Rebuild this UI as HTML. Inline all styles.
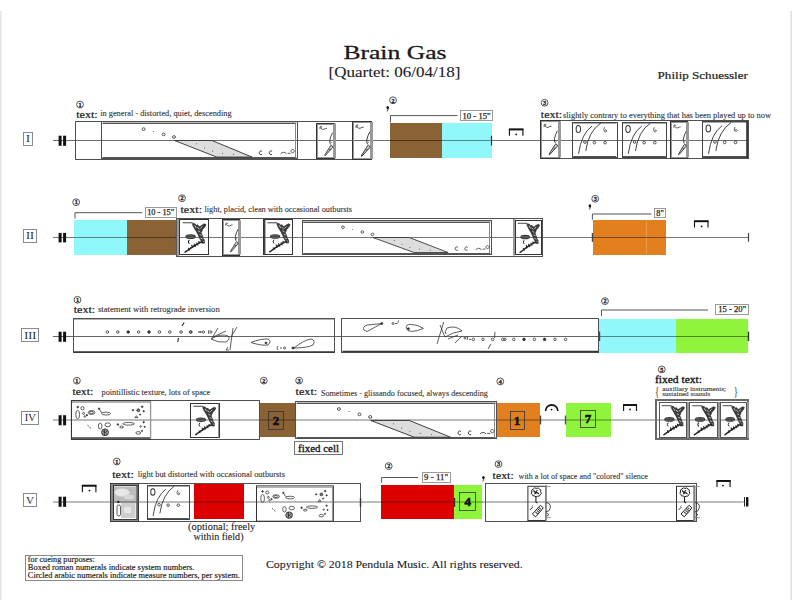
<!DOCTYPE html><html><head><meta charset="utf-8"><style>html,body{margin:0;padding:0;background:#fff;width:792px;height:612px;overflow:hidden}svg{display:block}text{font-family:'Liberation Serif', serif}</style></head><body>
<svg width="792" height="612" viewBox="0 0 792 612">
<rect x="0" y="0" width="792" height="612" fill="#fff"/>
<rect x="0" y="11" width="1.6" height="589" fill="#e4e4e6"/>
<rect x="790.2" y="11" width="1.8" height="589" fill="#e4e4e6"/>
<text x="343.4" y="59" font-size="19.5" font-weight="normal" fill="#1a1a1a" text-anchor="start" textLength="103.1" lengthAdjust="spacingAndGlyphs" stroke="#1a1a1a" stroke-width="0.3">Brain Gas</text>
<text x="328.5" y="77.2" font-size="14" font-weight="normal" fill="#222" text-anchor="start" textLength="131.9" lengthAdjust="spacingAndGlyphs" stroke="#222" stroke-width="0.1">[Quartet: 06/04/18]</text>
<text x="657.6" y="78.75" font-size="10.2" font-weight="normal" fill="#222" text-anchor="start" textLength="90.3" lengthAdjust="spacingAndGlyphs" stroke="#222" stroke-width="0.2">Philip Schuessler</text>
<rect x="23.5" y="132.5" width="9" height="13" fill="none" stroke="#8a8a8a" stroke-width="1"/>
<text x="26" y="142" font-size="10" font-weight="normal" fill="#2a2a2a" text-anchor="start" textLength="4" lengthAdjust="spacingAndGlyphs">I</text>
<line x1="52.9" y1="140.5" x2="748" y2="140.5" stroke="#6e6e6e" stroke-width="1"/>
<rect x="58.6" y="135.7" width="3" height="10.1" fill="#111"/>
<rect x="63.1" y="135.7" width="3" height="10.1" fill="#111"/>
<circle cx="80" cy="104.5" r="3.4" fill="none" stroke="#555" stroke-width="1"/>
<text x="80" y="106.7" font-size="6.2" font-weight="bold" fill="#222" text-anchor="middle" stroke="#222" stroke-width="0.3">1</text>
<text x="76.2" y="117.7" font-size="10.8" font-weight="normal" fill="#1a1a1a" text-anchor="start" textLength="21.5" lengthAdjust="spacingAndGlyphs" stroke="#1a1a1a" stroke-width="0.2">text:</text>
<text x="100.2" y="116.4" font-size="7.9" font-weight="normal" fill="#333" text-anchor="start" textLength="131.4" lengthAdjust="spacingAndGlyphs" stroke="#333" stroke-width="0.1">in general - distorted, quiet, descending</text>
<rect x="75.5" y="121.5" width="277" height="38" fill="none" stroke="#505050" stroke-width="1"/>
<rect x="101.5" y="121.5" width="196" height="37" fill="none" stroke="#505050" stroke-width="1"/>
<line x1="102.6" y1="123.5" x2="296.2" y2="123.5" stroke="#555" stroke-width="1"/>
<line x1="102.6" y1="122.5" x2="296.2" y2="122.5" stroke="#bbb" stroke-width="1"/>
<line x1="102.6" y1="157.5" x2="296.2" y2="157.5" stroke="#555" stroke-width="1"/>
<line x1="295.5" y1="122.8" x2="295.5" y2="157.6" stroke="#888" stroke-width="1"/>
<g transform="translate(101.6 121.8) scale(1 1.05)">
<ellipse cx="42" cy="7" rx="1.5" ry="1.3" fill="none" stroke="#333" stroke-width="0.8"/>
<ellipse cx="62" cy="12" rx="1.5" ry="1.3" fill="none" stroke="#333" stroke-width="0.8"/>
<ellipse cx="72.4" cy="14.5" rx="1.5" ry="1.3" fill="none" stroke="#333" stroke-width="0.8"/>
<circle cx="52" cy="9.3" r="0.5" fill="#333"/>
<path d="M72.9 17.8 L110.4 17.8 L150.4 33.6 L115.2 33.6 Z" fill="#ddd" stroke="#333" stroke-width="0.9"/>
<circle cx="95" cy="21" r="0.55" fill="#555"/>
<circle cx="103" cy="25" r="0.55" fill="#555"/>
<circle cx="111" cy="28" r="0.55" fill="#555"/>
<circle cx="121" cy="30" r="0.55" fill="#555"/>
<circle cx="132" cy="31" r="0.55" fill="#555"/>
<path d="M160.5 28 a1.8 1.8 0 1 0 0 3" fill="none" stroke="#333" stroke-width="0.9"/>
<path d="M170.5 28 a1.8 1.8 0 1 0 0 3" fill="none" stroke="#333" stroke-width="0.9"/>
<path d="M179 30.5 q3-3 6 0 M186 30 h3 M191 29.5 a1.6 1.6 0 1 1 0.1 0" fill="none" stroke="#333" stroke-width="0.8"/>
</g>
<rect x="316.5" y="123.5" width="18" height="35" fill="none" stroke="#333" stroke-width="1"/>
<rect x="317.5" y="124.5" width="16" height="33" fill="none" stroke="#999" stroke-width="1"/>
<line x1="335" y1="123.6" x2="335" y2="158.3" stroke="#999" stroke-width="2"/>
<g transform="translate(316.6 123.1) scale(1 1)" fill="none" stroke="#333" stroke-width="0.8" stroke-linejoin="round">
<path d="M3.4 6 q-0.6-3 1.2-2.8 q1.4 0.4 -0.4 1.6 q1.4 2.4 3.2 1.4 q1.5-1 3-0.9"/>
<path d="M16 9.6 Q14 13 13.2 17.2 Q12.8 19.5 14 21.4" stroke-width="0.9"/>
<path d="M14.6 22.2 q1.6 0.4 1.4 2.2 L8.6 32.6 L8 32.3 L13 24.2 q0.3-1.2 1.6-2z" fill="#d0d0d0" stroke-width="0.9"/>
<path d="M12.4 26.8 l1.6-0.8 M14 19 l1 0.5"/>
</g>
<rect x="352.5" y="121.5" width="19" height="38" fill="none" stroke="#333" stroke-width="1"/>
<rect x="353.5" y="122.5" width="17" height="36" fill="none" stroke="#999" stroke-width="1"/>
<line x1="372" y1="122" x2="372" y2="159.1" stroke="#999" stroke-width="2"/>
<g transform="translate(352.4 121.5) scale(1.09 1.07)" fill="none" stroke="#333" stroke-width="0.8" stroke-linejoin="round">
<path d="M3.4 6 q-0.6-3 1.2-2.8 q1.4 0.4 -0.4 1.6 q1.4 2.4 3.2 1.4 q1.5-1 3-0.9"/>
<path d="M16 9.6 Q14 13 13.2 17.2 Q12.8 19.5 14 21.4" stroke-width="0.9"/>
<path d="M14.6 22.2 q1.6 0.4 1.4 2.2 L8.6 32.6 L8 32.3 L13 24.2 q0.3-1.2 1.6-2z" fill="#d0d0d0" stroke-width="0.9"/>
<path d="M12.4 26.8 l1.6-0.8 M14 19 l1 0.5"/>
</g>
<circle cx="393" cy="100.3" r="3.4" fill="none" stroke="#555" stroke-width="1"/>
<text x="393" y="102.5" font-size="6.2" font-weight="bold" fill="#222" text-anchor="middle" stroke="#222" stroke-width="0.3">2</text>
<ellipse cx="387.7" cy="107.6" rx="1.25" ry="1.6" fill="#111"/>
<path d="M388.1 108.4 q0.1 1.8 -1.1 3" fill="none" stroke="#222" stroke-width="0.9"/>
<rect x="390" y="123" width="52" height="35" fill="#8b6235"/>
<rect x="442" y="123" width="50" height="35" fill="#90f8fa"/>
<line x1="389.9" y1="140.5" x2="491.9" y2="140.5" stroke="rgba(0,0,0,0.45)" stroke-width="1"/>
<path d="M390.5 122.3V115.6H457.5" fill="none" stroke="#555" stroke-width="1"/>
<rect x="460.5" y="110.5" width="32" height="10" fill="none" stroke="#9a9a9a" stroke-width="1"/>
<text x="462.55" y="118.8" font-size="8.6" font-weight="normal" fill="#222" text-anchor="start" textLength="28" lengthAdjust="spacingAndGlyphs" stroke="#222" stroke-width="0.25">10 - 15"</text>
<line x1="491.5" y1="135.7" x2="491.5" y2="145.5" stroke="#333" stroke-width="1.2"/>
<path d="M509.4 135.7V129.4H522.9V135.7" fill="none" stroke="#111" stroke-width="1.1"/>
<rect x="508.9" y="128.5" width="14.5" height="1.9" fill="#111"/>
<circle cx="516.2" cy="134.4" r="0.9" fill="#111"/>
<circle cx="544.6" cy="102.8" r="3.4" fill="none" stroke="#555" stroke-width="1"/>
<text x="544.6" y="105" font-size="6.2" font-weight="bold" fill="#222" text-anchor="middle" stroke="#222" stroke-width="0.3">3</text>
<text x="540.8" y="117.7" font-size="10.8" font-weight="normal" fill="#1a1a1a" text-anchor="start" textLength="21.4" lengthAdjust="spacingAndGlyphs" stroke="#1a1a1a" stroke-width="0.2">text:</text>
<text x="563" y="117.5" font-size="7.9" font-weight="normal" fill="#333" text-anchor="start" textLength="208" lengthAdjust="spacingAndGlyphs" stroke="#333" stroke-width="0.1">slightly contrary to everything that has been played up to now</text>
<rect x="540.5" y="120.5" width="208" height="38" fill="none" stroke="#505050" stroke-width="1"/>
<rect x="540.5" y="120.5" width="19" height="38" fill="none" stroke="#333" stroke-width="1"/>
<rect x="541.5" y="121.5" width="17" height="36" fill="none" stroke="#999" stroke-width="1"/>
<line x1="560" y1="121.3" x2="560" y2="157.5" stroke="#999" stroke-width="2"/>
<g transform="translate(540.6 120.8) scale(1.05 1.04)" fill="none" stroke="#333" stroke-width="0.8" stroke-linejoin="round">
<path d="M3.4 6 q-0.6-3 1.2-2.8 q1.4 0.4 -0.4 1.6 q1.4 2.4 3.2 1.4 q1.5-1 3-0.9"/>
<path d="M16 9.6 Q14 13 13.2 17.2 Q12.8 19.5 14 21.4" stroke-width="0.9"/>
<path d="M14.6 22.2 q1.6 0.4 1.4 2.2 L8.6 32.6 L8 32.3 L13 24.2 q0.3-1.2 1.6-2z" fill="#d0d0d0" stroke-width="0.9"/>
<path d="M12.4 26.8 l1.6-0.8 M14 19 l1 0.5"/>
</g>
<rect x="572.5" y="122.5" width="45" height="35" fill="none" stroke="#444" stroke-width="1"/>
<line x1="573.3" y1="123.5" x2="616.2" y2="123.5" stroke="#aaa" stroke-width="1"/>
<line x1="573.3" y1="156.5" x2="616.2" y2="156.5" stroke="#555" stroke-width="1"/>
<g transform="translate(572.3 122.1) scale(1.01 1.04)">
<ellipse cx="6" cy="6.6" rx="2.2" ry="3.3" fill="none" stroke="#333" stroke-width="1"/>
<path d="M19.5 3.9 Q9 11 6.2 30.5 M28.2 0.9 Q16 9 13.3 27.8" fill="none" stroke="#333" stroke-width="0.9"/>
<circle cx="12.5" cy="19.2" r="1.3" fill="none" stroke="#444" stroke-width="0.9"/>
<circle cx="21.9" cy="19.7" r="1.3" fill="none" stroke="#444" stroke-width="0.9"/>
<circle cx="32.5" cy="19.7" r="1.3" fill="none" stroke="#444" stroke-width="0.9"/>
<path d="M32 5 q-1.5 2 -0.3 4 q1.8 1 2.5 -0.5 q-0.5 -1.5 -2 -1" fill="none" stroke="#444" stroke-width="0.8"/>
</g>
<rect x="622.5" y="122.5" width="44" height="35" fill="none" stroke="#444" stroke-width="1"/>
<line x1="623" y1="123.5" x2="665.8" y2="123.5" stroke="#aaa" stroke-width="1"/>
<line x1="623" y1="156.5" x2="665.8" y2="156.5" stroke="#555" stroke-width="1"/>
<g transform="translate(622 122.1) scale(1.01 1.04)">
<ellipse cx="6" cy="6.6" rx="2.2" ry="3.3" fill="none" stroke="#333" stroke-width="1"/>
<path d="M19.5 3.9 Q9 11 6.2 30.5 M28.2 0.9 Q16 9 13.3 27.8" fill="none" stroke="#333" stroke-width="0.9"/>
<circle cx="12.5" cy="19.2" r="1.3" fill="none" stroke="#444" stroke-width="0.9"/>
<circle cx="21.9" cy="19.7" r="1.3" fill="none" stroke="#444" stroke-width="0.9"/>
<circle cx="32.5" cy="19.7" r="1.3" fill="none" stroke="#444" stroke-width="0.9"/>
<path d="M32 5 q-1.5 2 -0.3 4 q1.8 1 2.5 -0.5 q-0.5 -1.5 -2 -1" fill="none" stroke="#444" stroke-width="0.8"/>
</g>
<rect x="670.5" y="121.5" width="17" height="37" fill="none" stroke="#333" stroke-width="1"/>
<rect x="671.5" y="122.5" width="15" height="35" fill="none" stroke="#999" stroke-width="1"/>
<line x1="688" y1="122" x2="688" y2="157.5" stroke="#999" stroke-width="2"/>
<g transform="translate(670.6 121.5) scale(0.97 1.02)" fill="none" stroke="#333" stroke-width="0.8" stroke-linejoin="round">
<path d="M3.4 6 q-0.6-3 1.2-2.8 q1.4 0.4 -0.4 1.6 q1.4 2.4 3.2 1.4 q1.5-1 3-0.9"/>
<path d="M16 9.6 Q14 13 13.2 17.2 Q12.8 19.5 14 21.4" stroke-width="0.9"/>
<path d="M14.6 22.2 q1.6 0.4 1.4 2.2 L8.6 32.6 L8 32.3 L13 24.2 q0.3-1.2 1.6-2z" fill="#d0d0d0" stroke-width="0.9"/>
<path d="M12.4 26.8 l1.6-0.8 M14 19 l1 0.5"/>
</g>
<rect x="702.5" y="121.5" width="45" height="36" fill="none" stroke="#444" stroke-width="1"/>
<line x1="703.1" y1="122.5" x2="746.6" y2="122.5" stroke="#aaa" stroke-width="1"/>
<line x1="703.1" y1="156.5" x2="746.6" y2="156.5" stroke="#555" stroke-width="1"/>
<g transform="translate(702.1 121.5) scale(1.03 1.06)">
<ellipse cx="6" cy="6.6" rx="2.2" ry="3.3" fill="none" stroke="#333" stroke-width="1"/>
<path d="M19.5 3.9 Q9 11 6.2 30.5 M28.2 0.9 Q16 9 13.3 27.8" fill="none" stroke="#333" stroke-width="0.9"/>
<circle cx="12.5" cy="19.2" r="1.3" fill="none" stroke="#444" stroke-width="0.9"/>
<circle cx="21.9" cy="19.7" r="1.3" fill="none" stroke="#444" stroke-width="0.9"/>
<circle cx="32.5" cy="19.7" r="1.3" fill="none" stroke="#444" stroke-width="0.9"/>
<path d="M32 5 q-1.5 2 -0.3 4 q1.8 1 2.5 -0.5 q-0.5 -1.5 -2 -1" fill="none" stroke="#444" stroke-width="0.8"/>
</g>
<line x1="747" y1="121" x2="747" y2="158" stroke="#333" stroke-width="1.6"/>
<rect x="23.5" y="229.5" width="13" height="13" fill="none" stroke="#8a8a8a" stroke-width="1"/>
<text x="25.95" y="239.4" font-size="10" font-weight="normal" fill="#2a2a2a" text-anchor="start" textLength="8" lengthAdjust="spacingAndGlyphs">II</text>
<line x1="52.9" y1="237.5" x2="748.3" y2="237.5" stroke="#777" stroke-width="1"/>
<rect x="58.6" y="232.9" width="3" height="9.5" fill="#111"/>
<rect x="63.1" y="232.9" width="3" height="9.5" fill="#111"/>
<circle cx="76.2" cy="202.2" r="3.4" fill="none" stroke="#555" stroke-width="1"/>
<text x="76.2" y="204.4" font-size="6.2" font-weight="bold" fill="#222" text-anchor="middle" stroke="#222" stroke-width="0.3">1</text>
<rect x="74" y="220" width="53" height="35" fill="#90f8fa"/>
<rect x="127" y="220" width="49" height="35" fill="#8b6235"/>
<line x1="73.7" y1="237.5" x2="176.3" y2="237.5" stroke="rgba(0,0,0,0.45)" stroke-width="1"/>
<path d="M75 218.6V212.7H142.2" fill="none" stroke="#555" stroke-width="1"/>
<rect x="145.5" y="207.5" width="31" height="10" fill="none" stroke="#9a9a9a" stroke-width="1"/>
<text x="147.2" y="215.3" font-size="8.6" font-weight="normal" fill="#222" text-anchor="start" textLength="27" lengthAdjust="spacingAndGlyphs" stroke="#222" stroke-width="0.25">10 - 15"</text>
<line x1="176.5" y1="232.5" x2="176.5" y2="242" stroke="#333" stroke-width="1.2"/>
<circle cx="182" cy="198.2" r="3.4" fill="none" stroke="#555" stroke-width="1"/>
<text x="182" y="200.4" font-size="6.2" font-weight="bold" fill="#222" text-anchor="middle" stroke="#222" stroke-width="0.3">2</text>
<text x="180.5" y="212.7" font-size="10.8" font-weight="normal" fill="#1a1a1a" text-anchor="start" textLength="21.5" lengthAdjust="spacingAndGlyphs" stroke="#1a1a1a" stroke-width="0.2">text:</text>
<text x="204.5" y="212.3" font-size="7.9" font-weight="normal" fill="#333" text-anchor="start" textLength="147.6" lengthAdjust="spacingAndGlyphs" stroke="#333" stroke-width="0.1">light, placid, clean with occasional outbursts</text>
<rect x="176.5" y="218.5" width="366" height="38" fill="none" stroke="#505050" stroke-width="1"/>
<line x1="178" y1="219" x2="178" y2="256" stroke="#999" stroke-width="2.4"/>
<rect x="179.5" y="219.5" width="29" height="35" fill="none" stroke="#333" stroke-width="1"/>
<g transform="translate(181 221) scale(1.02 1.01)" fill="none" stroke="#262626" stroke-linejoin="round" stroke-linecap="round">
<path d="M2 1.8 h2 M4.6 1.8 h1.6 M6.8 1.8 h1.4 M8.8 1.8 h2" stroke-width="1" stroke="#444"/>
<path d="M11.5 2.2 L13.5 2.6 L15 4.2 L16.5 3.8 L17.6 5.6 L19 5.2 L21 3.8 L23 2.8 L24.6 3.6 L23.6 5.6 L22.4 7 L21 8.6 L20.6 10 L19.8 11.6 L20.4 13.2 L21.2 15 L21.6 17 L23 19 L23 22 L20.4 22 L19.6 19.6 L18.4 17.4 L17.4 15 L16.4 13 L15.4 11 L13.8 8.4 L12.4 6 L11.4 4z" fill="#3a3a3a" stroke="#222" stroke-width="0.6"/>
<path d="M13.6 4.6 l1.2 2 M16.2 6.4 l1.6 1.4 M20.6 5.6 l-1.4 1.6 M17.2 10 l1.4 0.8 M18.6 13.6 l1.2 0.4 M19.6 17 l1.2 0.6 M21 20.2 h1" stroke="#fff" stroke-width="0.7"/>
<path d="M21 20.6 L18.2 21.4 L15 23.4 L11.4 25.5 L8 28 L4 30.8" stroke-width="1.5"/>
<path d="M10.5 24 l1 2 M13 22.8 l1.2 2.2 M15.5 21.8 l1 2 M17.5 20.4 l0.8 1.6 M7.5 27 l0.8 1.6 M9.4 26.6 l1.6-0.2 M12.4 24.8 l1.6 0.2" stroke-width="1.2"/>
<ellipse cx="9.4" cy="15.5" rx="5.1" ry="2.3" fill="#333" stroke="none"/>
<path d="M5.5 14.8 h7.5 M6 16.4 h7" stroke="#999" stroke-width="0.5"/>
<path d="M8 19 q-1.6 1.6 0 3.2" stroke-width="1"/>
</g>
<rect x="222.5" y="219.5" width="17" height="36" fill="none" stroke="#333" stroke-width="1"/>
<rect x="223.5" y="220.5" width="15" height="34" fill="none" stroke="#999" stroke-width="1"/>
<line x1="240" y1="220.2" x2="240" y2="254.5" stroke="#999" stroke-width="2"/>
<g transform="translate(222.5 219.7) scale(0.97 0.99)" fill="none" stroke="#333" stroke-width="0.8" stroke-linejoin="round">
<path d="M3.4 6 q-0.6-3 1.2-2.8 q1.4 0.4 -0.4 1.6 q1.4 2.4 3.2 1.4 q1.5-1 3-0.9"/>
<path d="M16 9.6 Q14 13 13.2 17.2 Q12.8 19.5 14 21.4" stroke-width="0.9"/>
<path d="M14.6 22.2 q1.6 0.4 1.4 2.2 L8.6 32.6 L8 32.3 L13 24.2 q0.3-1.2 1.6-2z" fill="#d0d0d0" stroke-width="0.9"/>
<path d="M12.4 26.8 l1.6-0.8 M14 19 l1 0.5"/>
</g>
<rect x="263.6" y="219.5" width="1.8" height="35" fill="#444"/>
<rect x="263.5" y="219.5" width="29" height="35" fill="none" stroke="#333" stroke-width="1"/>
<g transform="translate(265.8 221) scale(0.99 1)" fill="none" stroke="#262626" stroke-linejoin="round" stroke-linecap="round">
<path d="M2 1.8 h2 M4.6 1.8 h1.6 M6.8 1.8 h1.4 M8.8 1.8 h2" stroke-width="1" stroke="#444"/>
<path d="M11.5 2.2 L13.5 2.6 L15 4.2 L16.5 3.8 L17.6 5.6 L19 5.2 L21 3.8 L23 2.8 L24.6 3.6 L23.6 5.6 L22.4 7 L21 8.6 L20.6 10 L19.8 11.6 L20.4 13.2 L21.2 15 L21.6 17 L23 19 L23 22 L20.4 22 L19.6 19.6 L18.4 17.4 L17.4 15 L16.4 13 L15.4 11 L13.8 8.4 L12.4 6 L11.4 4z" fill="#3a3a3a" stroke="#222" stroke-width="0.6"/>
<path d="M13.6 4.6 l1.2 2 M16.2 6.4 l1.6 1.4 M20.6 5.6 l-1.4 1.6 M17.2 10 l1.4 0.8 M18.6 13.6 l1.2 0.4 M19.6 17 l1.2 0.6 M21 20.2 h1" stroke="#fff" stroke-width="0.7"/>
<path d="M21 20.6 L18.2 21.4 L15 23.4 L11.4 25.5 L8 28 L4 30.8" stroke-width="1.5"/>
<path d="M10.5 24 l1 2 M13 22.8 l1.2 2.2 M15.5 21.8 l1 2 M17.5 20.4 l0.8 1.6 M7.5 27 l0.8 1.6 M9.4 26.6 l1.6-0.2 M12.4 24.8 l1.6 0.2" stroke-width="1.2"/>
<ellipse cx="9.4" cy="15.5" rx="5.1" ry="2.3" fill="#333" stroke="none"/>
<path d="M5.5 14.8 h7.5 M6 16.4 h7" stroke="#999" stroke-width="0.5"/>
<path d="M8 19 q-1.6 1.6 0 3.2" stroke-width="1"/>
</g>
<rect x="302.5" y="220.5" width="189" height="34" fill="none" stroke="#505050" stroke-width="1"/>
<line x1="303.2" y1="222.5" x2="490.3" y2="222.5" stroke="#555" stroke-width="1"/>
<line x1="303.2" y1="221.5" x2="490.3" y2="221.5" stroke="#bbb" stroke-width="1"/>
<line x1="303.2" y1="253.5" x2="490.3" y2="253.5" stroke="#555" stroke-width="1"/>
<line x1="489.5" y1="221.6" x2="489.5" y2="253" stroke="#888" stroke-width="1"/>
<g transform="translate(302.2 220.6) scale(0.97 0.95)">
<ellipse cx="42" cy="7" rx="1.5" ry="1.3" fill="none" stroke="#333" stroke-width="0.8"/>
<ellipse cx="62" cy="12" rx="1.5" ry="1.3" fill="none" stroke="#333" stroke-width="0.8"/>
<ellipse cx="72.4" cy="14.5" rx="1.5" ry="1.3" fill="none" stroke="#333" stroke-width="0.8"/>
<circle cx="52" cy="9.3" r="0.5" fill="#333"/>
<path d="M72.9 17.8 L110.4 17.8 L150.4 33.6 L115.2 33.6 Z" fill="#ddd" stroke="#333" stroke-width="0.9"/>
<circle cx="95" cy="21" r="0.55" fill="#555"/>
<circle cx="103" cy="25" r="0.55" fill="#555"/>
<circle cx="111" cy="28" r="0.55" fill="#555"/>
<circle cx="121" cy="30" r="0.55" fill="#555"/>
<circle cx="132" cy="31" r="0.55" fill="#555"/>
<path d="M160.5 28 a1.8 1.8 0 1 0 0 3" fill="none" stroke="#333" stroke-width="0.9"/>
<path d="M170.5 28 a1.8 1.8 0 1 0 0 3" fill="none" stroke="#333" stroke-width="0.9"/>
<path d="M179 30.5 q3-3 6 0 M186 30 h3 M191 29.5 a1.6 1.6 0 1 1 0.1 0" fill="none" stroke="#333" stroke-width="0.8"/>
</g>
<rect x="513" y="219" width="2.4" height="36.5" fill="#999"/>
<rect x="515.5" y="220.5" width="26" height="34" fill="none" stroke="#333" stroke-width="1"/>
<g transform="translate(516.3 221.5) scale(0.95 1)" fill="none" stroke="#262626" stroke-linejoin="round" stroke-linecap="round">
<path d="M2 1.8 h2 M4.6 1.8 h1.6 M6.8 1.8 h1.4 M8.8 1.8 h2" stroke-width="1" stroke="#444"/>
<path d="M11.5 2.2 L13.5 2.6 L15 4.2 L16.5 3.8 L17.6 5.6 L19 5.2 L21 3.8 L23 2.8 L24.6 3.6 L23.6 5.6 L22.4 7 L21 8.6 L20.6 10 L19.8 11.6 L20.4 13.2 L21.2 15 L21.6 17 L23 19 L23 22 L20.4 22 L19.6 19.6 L18.4 17.4 L17.4 15 L16.4 13 L15.4 11 L13.8 8.4 L12.4 6 L11.4 4z" fill="#3a3a3a" stroke="#222" stroke-width="0.6"/>
<path d="M13.6 4.6 l1.2 2 M16.2 6.4 l1.6 1.4 M20.6 5.6 l-1.4 1.6 M17.2 10 l1.4 0.8 M18.6 13.6 l1.2 0.4 M19.6 17 l1.2 0.6 M21 20.2 h1" stroke="#fff" stroke-width="0.7"/>
<path d="M21 20.6 L18.2 21.4 L15 23.4 L11.4 25.5 L8 28 L4 30.8" stroke-width="1.5"/>
<path d="M10.5 24 l1 2 M13 22.8 l1.2 2.2 M15.5 21.8 l1 2 M17.5 20.4 l0.8 1.6 M7.5 27 l0.8 1.6 M9.4 26.6 l1.6-0.2 M12.4 24.8 l1.6 0.2" stroke-width="1.2"/>
<ellipse cx="9.4" cy="15.5" rx="5.1" ry="2.3" fill="#333" stroke="none"/>
<path d="M5.5 14.8 h7.5 M6 16.4 h7" stroke="#999" stroke-width="0.5"/>
<path d="M8 19 q-1.6 1.6 0 3.2" stroke-width="1"/>
</g>
<circle cx="595.2" cy="198.8" r="3.4" fill="none" stroke="#555" stroke-width="1"/>
<text x="595.2" y="201" font-size="6.2" font-weight="bold" fill="#222" text-anchor="middle" stroke="#222" stroke-width="0.3">3</text>
<ellipse cx="589.9" cy="205.8" rx="1.25" ry="1.6" fill="#111"/>
<path d="M590.3 206.6 q0.1 1.8 -1.1 3" fill="none" stroke="#222" stroke-width="0.9"/>
<rect x="593" y="220" width="73" height="35" fill="#e2801f"/>
<line x1="646.5" y1="220" x2="646.5" y2="254.6" stroke="#f0a050" stroke-width="0.8"/>
<line x1="592.7" y1="237.5" x2="665.9" y2="237.5" stroke="rgba(0,0,0,0.45)" stroke-width="1"/>
<path d="M592.4 219.7V214H651.4" fill="none" stroke="#555" stroke-width="1"/>
<rect x="654.5" y="208.5" width="11" height="9" fill="none" stroke="#9a9a9a" stroke-width="1"/>
<text x="656.25" y="215.9" font-size="8.6" font-weight="normal" fill="#222" text-anchor="start" textLength="7.5" lengthAdjust="spacingAndGlyphs" stroke="#222" stroke-width="0.25">8"</text>
<line x1="592.5" y1="233" x2="592.5" y2="241.8" stroke="#444" stroke-width="1.4"/>
<path d="M694.5 227.6V221.2H708V227.6" fill="none" stroke="#111" stroke-width="1.1"/>
<rect x="694" y="220.3" width="14.5" height="1.9" fill="#111"/>
<circle cx="701.6" cy="226.4" r="0.9" fill="#111"/>
<line x1="748.5" y1="233" x2="748.5" y2="241.8" stroke="#444" stroke-width="1.2"/>
<rect x="21.5" y="328.5" width="17" height="13" fill="none" stroke="#8a8a8a" stroke-width="1"/>
<text x="24.3" y="338.8" font-size="10" font-weight="normal" fill="#2a2a2a" text-anchor="start" textLength="12" lengthAdjust="spacingAndGlyphs">III</text>
<line x1="52.9" y1="336.5" x2="748.2" y2="336.5" stroke="#666" stroke-width="1"/>
<rect x="58.6" y="331.7" width="3" height="10.1" fill="#111"/>
<rect x="63.1" y="331.7" width="3" height="10.1" fill="#111"/>
<circle cx="77.5" cy="299.8" r="3.4" fill="none" stroke="#555" stroke-width="1"/>
<text x="77.5" y="302" font-size="6.2" font-weight="bold" fill="#222" text-anchor="middle" stroke="#222" stroke-width="0.3">1</text>
<text x="73.7" y="312.7" font-size="10.8" font-weight="normal" fill="#1a1a1a" text-anchor="start" textLength="21.5" lengthAdjust="spacingAndGlyphs" stroke="#1a1a1a" stroke-width="0.2">text:</text>
<text x="98" y="312.2" font-size="7.9" font-weight="normal" fill="#333" text-anchor="start" textLength="121.7" lengthAdjust="spacingAndGlyphs" stroke="#333" stroke-width="0.1">statement with retrograde inversion</text>
<rect x="73.5" y="318.5" width="261" height="34" fill="none" stroke="#505050" stroke-width="1"/>
<line x1="74" y1="319.5" x2="334" y2="319.5" stroke="#aaa" stroke-width="0.9"/>
<line x1="74" y1="352" x2="334" y2="352" stroke="#333" stroke-width="1.6"/>
<rect x="341.5" y="318.5" width="257" height="34" fill="none" stroke="#505050" stroke-width="1"/>
<line x1="342.5" y1="351.5" x2="598.5" y2="351.5" stroke="#333" stroke-width="1.4"/>
<circle cx="107.4" cy="332" r="1.3" fill="none" stroke="#333" stroke-width="0.8"/>
<circle cx="117.8" cy="332" r="1.3" fill="none" stroke="#333" stroke-width="0.8"/>
<circle cx="128.2" cy="332" r="1.3" fill="#333" stroke="#333" stroke-width="0.8"/>
<circle cx="138.6" cy="332" r="1.3" fill="none" stroke="#333" stroke-width="0.8"/>
<circle cx="149" cy="332" r="1.3" fill="#333" stroke="#333" stroke-width="0.8"/>
<circle cx="159.4" cy="332" r="1.3" fill="none" stroke="#333" stroke-width="0.8"/>
<circle cx="169.8" cy="332" r="1.3" fill="none" stroke="#333" stroke-width="0.8"/>
<circle cx="181" cy="332" r="1.3" fill="none" stroke="#333" stroke-width="0.8"/>
<circle cx="190.5" cy="332" r="1.3" fill="none" stroke="#333" stroke-width="0.8"/>
<path d="M198 332 h3 M182 326 l2.2-3.5 M178.5 338 l-0.8 4" fill="none" stroke="#222" stroke-width="1.1"/>
<g fill="none" stroke="#333" stroke-width="0.8">
<circle cx="191" cy="332" r="1.2"/><path d="M200 332 h2"/><circle cx="203.5" cy="332" r="1.1"/><path d="M209 330 q-1.5 2 0 4"/><circle cx="211" cy="332" r="1.1"/>
<path d="M211 339 q10-6 17-3 q3 3 -2 6 q-8 1 -15-3 M212 338 l6-10 M213 337 l13-6 M233 328 l-3 22 M237 327 l-6 10 M228 347 l-2 3 h3"/>
<path d="M251 342.5 q10-4 17-3.5 q4 2 0 6 q-6 1 -17 -2.5z"/><circle cx="266" cy="343" r="1" fill="#333"/>
<path d="M278 346 q-2 2 0 4 M280 348 h2"/><circle cx="284.5" cy="348" r="1"/>
<circle cx="293" cy="348" r="1.1" fill="#333"/><path d="M294 348 q10-8 17-9 q5 1 2 6 q-6 3 -19 3"/>
<path d="M382 323.5 q-9 1 -15 1.5 q-5 2 -3 5 q3 3 6 0 q5-3 12-6.5z"/><circle cx="381.8" cy="323.5" r="1" fill="#333"/>
<circle cx="393" cy="323.5" r="1"/><path d="M395 323.5 h2 q2-1 1.5-3"/>
<path d="M423.4 328.4 q-6-4 -13-4 q-5 0 -4 4 q1 3 5 3 q6 0 12-3z"/><circle cx="408.4" cy="328.8" r="1" fill="#333"/>
<path d="M443.7 322 l-6.7 22 M440 325 l5 12 q8-5 17-6 q-6-6 -15-3 q-3 4 -1 6 M448 339 l10-4 M455 343 l7-7"/><circle cx="465" cy="338" r="1"/><path d="M467 336 q1.5 2 0 4"/>
<circle cx="473.3" cy="339.4" r="1.3" fill="none"/>
<circle cx="483" cy="339.4" r="1.3" fill="none"/>
<circle cx="492.6" cy="339.4" r="1.3" fill="none"/>
<circle cx="502.8" cy="339.4" r="1.3" fill="none"/>
<circle cx="513.8" cy="339.4" r="1.3" fill="none"/>
<circle cx="524" cy="339.4" r="1.3" fill="#333"/>
<circle cx="534.4" cy="339.4" r="1.3" fill="none"/>
<circle cx="544.6" cy="339.4" r="1.3" fill="#333"/>
<circle cx="555" cy="339.4" r="1.3" fill="none"/>
<circle cx="565.6" cy="339.4" r="1.3" fill="none"/>
<path d="M495 332 l-0.5 6 M488 349 l3-5 M469 339.4 h2"/><circle cx="505" cy="339.4" r="1.2"/>
</g>
<circle cx="605" cy="301.1" r="3.4" fill="none" stroke="#555" stroke-width="1"/>
<text x="605" y="303.3" font-size="6.2" font-weight="bold" fill="#222" text-anchor="middle" stroke="#222" stroke-width="0.3">2</text>
<rect x="599" y="319" width="77" height="34" fill="#90f8fa"/>
<rect x="676" y="319" width="72" height="34" fill="#90f43c"/>
<line x1="599.3" y1="336.5" x2="748.2" y2="336.5" stroke="rgba(0,0,0,0.45)" stroke-width="1"/>
<path d="M601.5 315.9V310H708" fill="none" stroke="#555" stroke-width="1"/>
<rect x="715.5" y="304.5" width="33" height="10" fill="none" stroke="#9a9a9a" stroke-width="1"/>
<text x="718.2" y="312.1" font-size="8.6" font-weight="normal" fill="#222" text-anchor="start" textLength="28" lengthAdjust="spacingAndGlyphs" stroke="#222" stroke-width="0.25">15 - 20"</text>
<line x1="599.5" y1="331.5" x2="599.5" y2="341" stroke="#444" stroke-width="1.4"/>
<line x1="748.5" y1="331.7" x2="748.5" y2="341.1" stroke="#333" stroke-width="1.4"/>
<rect x="21.5" y="411.5" width="17" height="13" fill="none" stroke="#8a8a8a" stroke-width="1"/>
<text x="24.8" y="421.2" font-size="10" font-weight="normal" fill="#2a2a2a" text-anchor="start" textLength="11" lengthAdjust="spacingAndGlyphs">IV</text>
<line x1="52.9" y1="420" x2="748" y2="420" stroke="#777" stroke-width="1"/>
<rect x="58.6" y="415.2" width="3" height="10.1" fill="#111"/>
<rect x="63.1" y="415.2" width="3" height="10.1" fill="#111"/>
<circle cx="76.9" cy="380.7" r="3.4" fill="none" stroke="#555" stroke-width="1"/>
<text x="76.9" y="382.9" font-size="6.2" font-weight="bold" fill="#222" text-anchor="middle" stroke="#222" stroke-width="0.3">1</text>
<text x="72.4" y="395.2" font-size="10.8" font-weight="normal" fill="#1a1a1a" text-anchor="start" textLength="20.9" lengthAdjust="spacingAndGlyphs" stroke="#1a1a1a" stroke-width="0.2">text:</text>
<text x="101.5" y="395" font-size="7.9" font-weight="normal" fill="#333" text-anchor="start" textLength="108.7" lengthAdjust="spacingAndGlyphs" stroke="#333" stroke-width="0.1">pointillistic texture, lots of space</text>
<rect x="71.5" y="400.5" width="188" height="39" fill="none" stroke="#505050" stroke-width="1"/>
<rect x="71.4" y="400.9" width="79.2" height="38.2" fill="none" stroke="#333" stroke-width="1"/>
<line x1="72" y1="402.5" x2="150" y2="402.5" stroke="#aaa" stroke-width="0.9"/>
<line x1="72" y1="438" x2="150" y2="438" stroke="#444" stroke-width="1.6"/>
<line x1="150.5" y1="401" x2="150.5" y2="439" stroke="#999" stroke-width="1.2"/>
<g transform="translate(71.4 401.2) scale(1 1)" stroke="#333" fill="none" stroke-width="0.8">
<circle cx="6.3" cy="5.9" r="0.8" fill="#333"/>
<circle cx="11.1" cy="7" r="1.6"/>
<ellipse cx="6.3" cy="13.4" rx="1.9" ry="4.3"/>
<circle cx="12.2" cy="12.2" r="1"/><circle cx="13.4" cy="15.3" r="0.8"/><circle cx="15.5" cy="14" r="0.7" fill="#333"/>
<ellipse cx="20.2" cy="11.3" rx="3.4" ry="1.9"/><ellipse cx="20" cy="11.3" rx="2" ry="1"/>
<circle cx="27.7" cy="7.5" r="0.8" fill="#333"/>
<path d="M28.5 8.5 q1 3 2.5 3.2"/><ellipse cx="34.7" cy="12.4" rx="4.6" ry="1.4"/>
<circle cx="61.5" cy="9" r="0.7" fill="#333"/><circle cx="66.9" cy="9.1" r="1.5" fill="#777"/><circle cx="70.8" cy="5.5" r="0.8" fill="#333"/><circle cx="72.3" cy="10" r="0.7" fill="#333"/><circle cx="68.7" cy="13.4" r="0.6" fill="#333"/><path d="M63.5 16.5 l1.5-2 l1.5 2z"/>
<path d="M16 24 l1.5 1 M18 26 l1.5 1"/>
<ellipse cx="28.8" cy="24.9" rx="1.8" ry="2.9"/><ellipse cx="36.3" cy="23.6" rx="2.8" ry="1.9"/>
<circle cx="33.6" cy="31.1" r="3.4" fill="#aaa" stroke-width="1"/><path d="M31 29 q3 4 5 0 M31.5 32.5 q2-3 4.5 1 M33 28 v6" stroke-width="0.9"/>
<circle cx="46.5" cy="23.3" r="0.8" fill="#333"/><ellipse cx="57.2" cy="22.6" rx="5.8" ry="1.3"/><ellipse cx="50.2" cy="25.8" rx="1.9" ry="1"/>
<circle cx="72.3" cy="21" r="0.7" fill="#333"/><circle cx="69.3" cy="25.2" r="0.7"/><circle cx="73.3" cy="25.6" r="0.6" fill="#333"/><circle cx="70.6" cy="29.7" r="0.6" fill="#333"/><ellipse cx="66.9" cy="31.7" rx="2.4" ry="1.3"/>
</g>
<rect x="190.5" y="403.5" width="29" height="34" fill="none" stroke="#333" stroke-width="1"/>
<line x1="218.5" y1="403.5" x2="218.5" y2="437.5" stroke="#999" stroke-width="1"/>
<g transform="translate(191.8 404.5) scale(0.98 0.98)" fill="none" stroke="#262626" stroke-linejoin="round" stroke-linecap="round">
<path d="M2 1.8 h2 M4.6 1.8 h1.6 M6.8 1.8 h1.4 M8.8 1.8 h2" stroke-width="1" stroke="#444"/>
<path d="M11.5 2.2 L13.5 2.6 L15 4.2 L16.5 3.8 L17.6 5.6 L19 5.2 L21 3.8 L23 2.8 L24.6 3.6 L23.6 5.6 L22.4 7 L21 8.6 L20.6 10 L19.8 11.6 L20.4 13.2 L21.2 15 L21.6 17 L23 19 L23 22 L20.4 22 L19.6 19.6 L18.4 17.4 L17.4 15 L16.4 13 L15.4 11 L13.8 8.4 L12.4 6 L11.4 4z" fill="#3a3a3a" stroke="#222" stroke-width="0.6"/>
<path d="M13.6 4.6 l1.2 2 M16.2 6.4 l1.6 1.4 M20.6 5.6 l-1.4 1.6 M17.2 10 l1.4 0.8 M18.6 13.6 l1.2 0.4 M19.6 17 l1.2 0.6 M21 20.2 h1" stroke="#fff" stroke-width="0.7"/>
<path d="M21 20.6 L18.2 21.4 L15 23.4 L11.4 25.5 L8 28 L4 30.8" stroke-width="1.5"/>
<path d="M10.5 24 l1 2 M13 22.8 l1.2 2.2 M15.5 21.8 l1 2 M17.5 20.4 l0.8 1.6 M7.5 27 l0.8 1.6 M9.4 26.6 l1.6-0.2 M12.4 24.8 l1.6 0.2" stroke-width="1.2"/>
<ellipse cx="9.4" cy="15.5" rx="5.1" ry="2.3" fill="#333" stroke="none"/>
<path d="M5.5 14.8 h7.5 M6 16.4 h7" stroke="#999" stroke-width="0.5"/>
<path d="M8 19 q-1.6 1.6 0 3.2" stroke-width="1"/>
</g>
<circle cx="263.8" cy="380.6" r="3.4" fill="none" stroke="#555" stroke-width="1"/>
<text x="263.8" y="382.8" font-size="6.2" font-weight="bold" fill="#222" text-anchor="middle" stroke="#222" stroke-width="0.3">2</text>
<rect x="260" y="403" width="35" height="34" fill="#8b6235"/>
<line x1="259.9" y1="420" x2="294.9" y2="420" stroke="rgba(0,0,0,0.45)" stroke-width="1"/>
<rect x="268.5" y="411.5" width="15" height="18" fill="none" stroke="#333" stroke-width="0.8"/>
<text x="276" y="424.82" font-size="13" font-weight="bold" fill="#111" text-anchor="middle" stroke="#111" stroke-width="0.6">2</text>
<circle cx="299.1" cy="380.6" r="3.4" fill="none" stroke="#555" stroke-width="1"/>
<text x="299.1" y="382.8" font-size="6.2" font-weight="bold" fill="#222" text-anchor="middle" stroke="#222" stroke-width="0.3">3</text>
<text x="295.6" y="395.3" font-size="10.8" font-weight="normal" fill="#1a1a1a" text-anchor="start" textLength="21.6" lengthAdjust="spacingAndGlyphs" stroke="#1a1a1a" stroke-width="0.2">text:</text>
<text x="320.9" y="395.5" font-size="7.9" font-weight="normal" fill="#333" text-anchor="start" textLength="167" lengthAdjust="spacingAndGlyphs" stroke="#333" stroke-width="0.1">Sometimes - glissando focused, always descending</text>
<rect x="295.5" y="401.5" width="201" height="37" fill="none" stroke="#505050" stroke-width="1"/>
<line x1="296.6" y1="403.5" x2="495.6" y2="403.5" stroke="#555" stroke-width="1"/>
<line x1="296.6" y1="402.5" x2="495.6" y2="402.5" stroke="#bbb" stroke-width="1"/>
<line x1="296.6" y1="437.5" x2="495.6" y2="437.5" stroke="#555" stroke-width="1"/>
<line x1="494.5" y1="402.6" x2="494.5" y2="437.8" stroke="#888" stroke-width="1"/>
<g transform="translate(295.6 401.6) scale(1.03 1.06)">
<ellipse cx="42" cy="7" rx="1.5" ry="1.3" fill="none" stroke="#333" stroke-width="0.8"/>
<ellipse cx="62" cy="12" rx="1.5" ry="1.3" fill="none" stroke="#333" stroke-width="0.8"/>
<ellipse cx="72.4" cy="14.5" rx="1.5" ry="1.3" fill="none" stroke="#333" stroke-width="0.8"/>
<circle cx="52" cy="9.3" r="0.5" fill="#333"/>
<path d="M72.9 17.8 L110.4 17.8 L150.4 33.6 L115.2 33.6 Z" fill="#ddd" stroke="#333" stroke-width="0.9"/>
<circle cx="95" cy="21" r="0.55" fill="#555"/>
<circle cx="103" cy="25" r="0.55" fill="#555"/>
<circle cx="111" cy="28" r="0.55" fill="#555"/>
<circle cx="121" cy="30" r="0.55" fill="#555"/>
<circle cx="132" cy="31" r="0.55" fill="#555"/>
<path d="M160.5 28 a1.8 1.8 0 1 0 0 3" fill="none" stroke="#333" stroke-width="0.9"/>
<path d="M170.5 28 a1.8 1.8 0 1 0 0 3" fill="none" stroke="#333" stroke-width="0.9"/>
<path d="M179 30.5 q3-3 6 0 M186 30 h3 M191 29.5 a1.6 1.6 0 1 1 0.1 0" fill="none" stroke="#333" stroke-width="0.8"/>
</g>
<rect x="294.5" y="441.5" width="48" height="13" fill="none" stroke="#666" stroke-width="0.9"/>
<text x="298" y="451.7" font-size="10.8" font-weight="normal" fill="#111" text-anchor="start" textLength="41" lengthAdjust="spacingAndGlyphs" stroke="#111" stroke-width="0.3">fixed cell</text>
<circle cx="500.3" cy="381.4" r="3.4" fill="none" stroke="#555" stroke-width="1"/>
<text x="500.3" y="383.6" font-size="6.2" font-weight="bold" fill="#222" text-anchor="middle" stroke="#222" stroke-width="0.3">4</text>
<rect x="497" y="403" width="43" height="34" fill="#e2801f"/>
<line x1="497.1" y1="420" x2="540.1" y2="420" stroke="rgba(0,0,0,0.45)" stroke-width="1"/>
<rect x="510.5" y="411.5" width="14" height="18" fill="none" stroke="#333" stroke-width="0.8"/>
<text x="517.1" y="424.57" font-size="13" font-weight="bold" fill="#111" text-anchor="middle" stroke="#111" stroke-width="0.6">1</text>
<line x1="540.5" y1="415.5" x2="540.5" y2="424.5" stroke="#444" stroke-width="1.4"/>
<path d="M545.6 411 a6.1 6.1 0 0 1 12.2 0" fill="none" stroke="#111" stroke-width="1.6"/><circle cx="551.6" cy="409.6" r="0.9" fill="#111"/>
<rect x="566" y="403" width="45" height="34" fill="#90f43c"/>
<line x1="565.5" y1="420" x2="611.1" y2="420" stroke="rgba(0,0,0,0.45)" stroke-width="1"/>
<line x1="565.5" y1="415.5" x2="565.5" y2="424.5" stroke="#555" stroke-width="1.4"/>
<rect x="580.5" y="410.5" width="15" height="17" fill="none" stroke="#333" stroke-width="0.8"/>
<text x="587.9" y="423.42" font-size="13" font-weight="bold" fill="#111" text-anchor="middle" stroke="#111" stroke-width="0.6">7</text>
<path d="M623.6 411V405H636.5V411" fill="none" stroke="#111" stroke-width="1.1"/>
<rect x="623.1" y="404.1" width="13.9" height="1.9" fill="#111"/>
<circle cx="630" cy="409.4" r="0.9" fill="#111"/>
<circle cx="661.8" cy="369.4" r="3.4" fill="none" stroke="#555" stroke-width="1"/>
<text x="661.8" y="371.6" font-size="6.2" font-weight="bold" fill="#222" text-anchor="middle" stroke="#222" stroke-width="0.3">5</text>
<text x="654.9" y="382.9" font-size="10.8" font-weight="normal" fill="#111" text-anchor="start" textLength="47.1" lengthAdjust="spacingAndGlyphs" stroke="#111" stroke-width="0.3">fixed text:</text>
<text x="655" y="396" font-size="12" font-weight="normal" fill="#333" text-anchor="start" textLength="4.2" lengthAdjust="spacingAndGlyphs">{</text>
<text x="662.2" y="390.8" font-size="6.6" font-weight="normal" fill="#333" text-anchor="start" textLength="63.9" lengthAdjust="spacingAndGlyphs" stroke="#333" stroke-width="0.1">auxiliary instruments;</text>
<text x="662.2" y="396.4" font-size="6.6" font-weight="normal" fill="#333" text-anchor="start" textLength="48" lengthAdjust="spacingAndGlyphs" stroke="#333" stroke-width="0.1">sustained sounds</text>
<text x="733.8" y="396" font-size="12" font-weight="normal" fill="#333" text-anchor="start" textLength="4.2" lengthAdjust="spacingAndGlyphs">}</text>
<rect x="656" y="400" width="92" height="39" fill="none" stroke="#6a6a6a" stroke-width="2"/>
<rect x="659.5" y="402.5" width="27" height="35" fill="none" stroke="#555" stroke-width="1"/>
<line x1="688" y1="402" x2="688" y2="438" stroke="#999" stroke-width="2"/>
<g transform="translate(660 403.9) scale(1 1)" fill="none" stroke="#262626" stroke-linejoin="round" stroke-linecap="round">
<path d="M2 1.8 h2 M4.6 1.8 h1.6 M6.8 1.8 h1.4 M8.8 1.8 h2" stroke-width="1" stroke="#444"/>
<path d="M11.5 2.2 L13.5 2.6 L15 4.2 L16.5 3.8 L17.6 5.6 L19 5.2 L21 3.8 L23 2.8 L24.6 3.6 L23.6 5.6 L22.4 7 L21 8.6 L20.6 10 L19.8 11.6 L20.4 13.2 L21.2 15 L21.6 17 L23 19 L23 22 L20.4 22 L19.6 19.6 L18.4 17.4 L17.4 15 L16.4 13 L15.4 11 L13.8 8.4 L12.4 6 L11.4 4z" fill="#3a3a3a" stroke="#222" stroke-width="0.6"/>
<path d="M13.6 4.6 l1.2 2 M16.2 6.4 l1.6 1.4 M20.6 5.6 l-1.4 1.6 M17.2 10 l1.4 0.8 M18.6 13.6 l1.2 0.4 M19.6 17 l1.2 0.6 M21 20.2 h1" stroke="#fff" stroke-width="0.7"/>
<path d="M21 20.6 L18.2 21.4 L15 23.4 L11.4 25.5 L8 28 L4 30.8" stroke-width="1.5"/>
<path d="M10.5 24 l1 2 M13 22.8 l1.2 2.2 M15.5 21.8 l1 2 M17.5 20.4 l0.8 1.6 M7.5 27 l0.8 1.6 M9.4 26.6 l1.6-0.2 M12.4 24.8 l1.6 0.2" stroke-width="1.2"/>
<ellipse cx="9.4" cy="15.5" rx="5.1" ry="2.3" fill="#333" stroke="none"/>
<path d="M5.5 14.8 h7.5 M6 16.4 h7" stroke="#999" stroke-width="0.5"/>
<path d="M8 19 q-1.6 1.6 0 3.2" stroke-width="1"/>
</g>
<rect x="689.5" y="402.5" width="28" height="35" fill="none" stroke="#555" stroke-width="1"/>
<line x1="719" y1="402" x2="719" y2="438" stroke="#999" stroke-width="2"/>
<g transform="translate(690.5 403.9) scale(1.01 1)" fill="none" stroke="#262626" stroke-linejoin="round" stroke-linecap="round">
<path d="M2 1.8 h2 M4.6 1.8 h1.6 M6.8 1.8 h1.4 M8.8 1.8 h2" stroke-width="1" stroke="#444"/>
<path d="M11.5 2.2 L13.5 2.6 L15 4.2 L16.5 3.8 L17.6 5.6 L19 5.2 L21 3.8 L23 2.8 L24.6 3.6 L23.6 5.6 L22.4 7 L21 8.6 L20.6 10 L19.8 11.6 L20.4 13.2 L21.2 15 L21.6 17 L23 19 L23 22 L20.4 22 L19.6 19.6 L18.4 17.4 L17.4 15 L16.4 13 L15.4 11 L13.8 8.4 L12.4 6 L11.4 4z" fill="#3a3a3a" stroke="#222" stroke-width="0.6"/>
<path d="M13.6 4.6 l1.2 2 M16.2 6.4 l1.6 1.4 M20.6 5.6 l-1.4 1.6 M17.2 10 l1.4 0.8 M18.6 13.6 l1.2 0.4 M19.6 17 l1.2 0.6 M21 20.2 h1" stroke="#fff" stroke-width="0.7"/>
<path d="M21 20.6 L18.2 21.4 L15 23.4 L11.4 25.5 L8 28 L4 30.8" stroke-width="1.5"/>
<path d="M10.5 24 l1 2 M13 22.8 l1.2 2.2 M15.5 21.8 l1 2 M17.5 20.4 l0.8 1.6 M7.5 27 l0.8 1.6 M9.4 26.6 l1.6-0.2 M12.4 24.8 l1.6 0.2" stroke-width="1.2"/>
<ellipse cx="9.4" cy="15.5" rx="5.1" ry="2.3" fill="#333" stroke="none"/>
<path d="M5.5 14.8 h7.5 M6 16.4 h7" stroke="#999" stroke-width="0.5"/>
<path d="M8 19 q-1.6 1.6 0 3.2" stroke-width="1"/>
</g>
<rect x="720.5" y="402.5" width="26" height="35" fill="none" stroke="#555" stroke-width="1"/>
<line x1="748" y1="402" x2="748" y2="438" stroke="#999" stroke-width="2"/>
<g transform="translate(721.3 403.9) scale(0.94 1)" fill="none" stroke="#262626" stroke-linejoin="round" stroke-linecap="round">
<path d="M2 1.8 h2 M4.6 1.8 h1.6 M6.8 1.8 h1.4 M8.8 1.8 h2" stroke-width="1" stroke="#444"/>
<path d="M11.5 2.2 L13.5 2.6 L15 4.2 L16.5 3.8 L17.6 5.6 L19 5.2 L21 3.8 L23 2.8 L24.6 3.6 L23.6 5.6 L22.4 7 L21 8.6 L20.6 10 L19.8 11.6 L20.4 13.2 L21.2 15 L21.6 17 L23 19 L23 22 L20.4 22 L19.6 19.6 L18.4 17.4 L17.4 15 L16.4 13 L15.4 11 L13.8 8.4 L12.4 6 L11.4 4z" fill="#3a3a3a" stroke="#222" stroke-width="0.6"/>
<path d="M13.6 4.6 l1.2 2 M16.2 6.4 l1.6 1.4 M20.6 5.6 l-1.4 1.6 M17.2 10 l1.4 0.8 M18.6 13.6 l1.2 0.4 M19.6 17 l1.2 0.6 M21 20.2 h1" stroke="#fff" stroke-width="0.7"/>
<path d="M21 20.6 L18.2 21.4 L15 23.4 L11.4 25.5 L8 28 L4 30.8" stroke-width="1.5"/>
<path d="M10.5 24 l1 2 M13 22.8 l1.2 2.2 M15.5 21.8 l1 2 M17.5 20.4 l0.8 1.6 M7.5 27 l0.8 1.6 M9.4 26.6 l1.6-0.2 M12.4 24.8 l1.6 0.2" stroke-width="1.2"/>
<ellipse cx="9.4" cy="15.5" rx="5.1" ry="2.3" fill="#333" stroke="none"/>
<path d="M5.5 14.8 h7.5 M6 16.4 h7" stroke="#999" stroke-width="0.5"/>
<path d="M8 19 q-1.6 1.6 0 3.2" stroke-width="1"/>
</g>
<rect x="23.5" y="493.5" width="13" height="13" fill="none" stroke="#8a8a8a" stroke-width="1"/>
<text x="25.95" y="503.8" font-size="10" font-weight="normal" fill="#2a2a2a" text-anchor="start" textLength="8" lengthAdjust="spacingAndGlyphs">V</text>
<line x1="52.9" y1="502" x2="743.8" y2="502" stroke="#7a7a7a" stroke-width="1"/>
<rect x="58.6" y="496.7" width="3" height="10.1" fill="#111"/>
<rect x="63.1" y="496.7" width="3" height="10.1" fill="#111"/>
<path d="M82.4 492.2V485.6H95.9V492.2" fill="none" stroke="#111" stroke-width="1.1"/>
<rect x="81.9" y="484.7" width="14.5" height="1.9" fill="#111"/>
<circle cx="89.5" cy="490.6" r="0.9" fill="#111"/>
<circle cx="116.8" cy="461.5" r="3.4" fill="none" stroke="#555" stroke-width="1"/>
<text x="116.8" y="463.7" font-size="6.2" font-weight="bold" fill="#222" text-anchor="middle" stroke="#222" stroke-width="0.3">1</text>
<text x="112.2" y="478.1" font-size="10.8" font-weight="normal" fill="#1a1a1a" text-anchor="start" textLength="21.6" lengthAdjust="spacingAndGlyphs" stroke="#1a1a1a" stroke-width="0.2">text:</text>
<text x="137.7" y="477.4" font-size="7.9" font-weight="normal" fill="#333" text-anchor="start" textLength="147.3" lengthAdjust="spacingAndGlyphs" stroke="#333" stroke-width="0.1">light but distorted with occasional outbursts</text>
<rect x="110.5" y="483.5" width="250" height="38" fill="none" stroke="#505050" stroke-width="1"/>
<rect x="110" y="483" width="29" height="39" fill="#8a8a8a"/>
<rect x="110.5" y="483.5" width="28" height="38" fill="none" stroke="#3a3a3a" stroke-width="1"/>
<rect x="113" y="486" width="23.5" height="33" fill="#fff"/>
<rect x="113.5" y="485.5" width="23.5" height="34" fill="none" stroke="#3a3a3a" stroke-width="1"/>
<rect x="114" y="486.5" width="22" height="16" fill="#bdbdbd"/><ellipse cx="122" cy="492.5" rx="7.5" ry="4" fill="#e8e8e8"/><ellipse cx="129" cy="497" rx="5" ry="2.5" fill="#d6d6d6"/><rect x="121" y="502" width="14.5" height="16" fill="#cfcfcf"/><rect x="124" y="507" width="7" height="6" fill="#e6e6e6"/>
<line x1="113.5" y1="485.5" x2="113.5" y2="519.5" stroke="#333" stroke-width="1"/>
<line x1="110" y1="502" x2="139" y2="502" stroke="#555" stroke-width="1"/>
<circle cx="118.3" cy="502" r="1.2" fill="#222"/><rect x="117" y="505" width="3.5" height="11" rx="1.7" fill="none" stroke="#333" stroke-width="0.8"/>
<rect x="147.5" y="485.5" width="42" height="34" fill="none" stroke="#444" stroke-width="1"/>
<line x1="148.1" y1="486.5" x2="188.7" y2="486.5" stroke="#aaa" stroke-width="1"/>
<line x1="148.1" y1="518.5" x2="188.7" y2="518.5" stroke="#555" stroke-width="1"/>
<g transform="translate(147.1 485.3) scale(0.96 1.01)">
<ellipse cx="6" cy="6.6" rx="2.2" ry="3.3" fill="none" stroke="#333" stroke-width="1"/>
<path d="M19.5 3.9 Q9 11 6.2 30.5 M28.2 0.9 Q16 9 13.3 27.8" fill="none" stroke="#333" stroke-width="0.9"/>
<circle cx="12.5" cy="19.2" r="1.3" fill="none" stroke="#444" stroke-width="0.9"/>
<circle cx="21.9" cy="19.7" r="1.3" fill="none" stroke="#444" stroke-width="0.9"/>
<circle cx="32.5" cy="19.7" r="1.3" fill="none" stroke="#444" stroke-width="0.9"/>
<path d="M32 5 q-1.5 2 -0.3 4 q1.8 1 2.5 -0.5 q-0.5 -1.5 -2 -1" fill="none" stroke="#444" stroke-width="0.8"/>
</g>
<rect x="194" y="484" width="50" height="35" fill="#dd0000"/>
<line x1="194.3" y1="502" x2="244" y2="502" stroke="rgba(0,0,0,0.45)" stroke-width="1"/>
<text x="188.1" y="530" font-size="10.4" font-weight="normal" fill="#222" text-anchor="start" textLength="67.2" lengthAdjust="spacingAndGlyphs" stroke="#222" stroke-width="0.1">(optional; freely</text>
<text x="193.5" y="540" font-size="10.4" font-weight="normal" fill="#222" text-anchor="start" textLength="50" lengthAdjust="spacingAndGlyphs" stroke="#222" stroke-width="0.1">within field)</text>
<rect x="256.5" y="485.9" width="76.9" height="35.3" fill="none" stroke="#333" stroke-width="1"/>
<line x1="257" y1="487.5" x2="333" y2="487.5" stroke="#aaa" stroke-width="0.9"/>
<line x1="332.5" y1="486" x2="332.5" y2="521" stroke="#999" stroke-width="1.2"/>
<g transform="translate(256.5 485.9) scale(0.97 0.94)" stroke="#333" fill="none" stroke-width="0.8">
<circle cx="6.3" cy="5.9" r="0.8" fill="#333"/>
<circle cx="11.1" cy="7" r="1.6"/>
<ellipse cx="6.3" cy="13.4" rx="1.9" ry="4.3"/>
<circle cx="12.2" cy="12.2" r="1"/><circle cx="13.4" cy="15.3" r="0.8"/><circle cx="15.5" cy="14" r="0.7" fill="#333"/>
<ellipse cx="20.2" cy="11.3" rx="3.4" ry="1.9"/><ellipse cx="20" cy="11.3" rx="2" ry="1"/>
<circle cx="27.7" cy="7.5" r="0.8" fill="#333"/>
<path d="M28.5 8.5 q1 3 2.5 3.2"/><ellipse cx="34.7" cy="12.4" rx="4.6" ry="1.4"/>
<circle cx="61.5" cy="9" r="0.7" fill="#333"/><circle cx="66.9" cy="9.1" r="1.5" fill="#777"/><circle cx="70.8" cy="5.5" r="0.8" fill="#333"/><circle cx="72.3" cy="10" r="0.7" fill="#333"/><circle cx="68.7" cy="13.4" r="0.6" fill="#333"/><path d="M63.5 16.5 l1.5-2 l1.5 2z"/>
<path d="M16 24 l1.5 1 M18 26 l1.5 1"/>
<ellipse cx="28.8" cy="24.9" rx="1.8" ry="2.9"/><ellipse cx="36.3" cy="23.6" rx="2.8" ry="1.9"/>
<circle cx="33.6" cy="31.1" r="3.4" fill="#aaa" stroke-width="1"/><path d="M31 29 q3 4 5 0 M31.5 32.5 q2-3 4.5 1 M33 28 v6" stroke-width="0.9"/>
<circle cx="46.5" cy="23.3" r="0.8" fill="#333"/><ellipse cx="57.2" cy="22.6" rx="5.8" ry="1.3"/><ellipse cx="50.2" cy="25.8" rx="1.9" ry="1"/>
<circle cx="72.3" cy="21" r="0.7" fill="#333"/><circle cx="69.3" cy="25.2" r="0.7"/><circle cx="73.3" cy="25.6" r="0.6" fill="#333"/><circle cx="70.6" cy="29.7" r="0.6" fill="#333"/><ellipse cx="66.9" cy="31.7" rx="2.4" ry="1.3"/>
</g>
<line x1="360.5" y1="497.9" x2="360.5" y2="506.7" stroke="#333" stroke-width="1.4"/>
<circle cx="388.7" cy="466.1" r="3.4" fill="none" stroke="#555" stroke-width="1"/>
<text x="388.7" y="468.3" font-size="6.2" font-weight="bold" fill="#222" text-anchor="middle" stroke="#222" stroke-width="0.3">2</text>
<rect x="381" y="485" width="73" height="34" fill="#dd0000"/>
<rect x="454" y="485" width="28" height="34" fill="#90f43c"/>
<line x1="381.1" y1="502" x2="482.5" y2="502" stroke="rgba(0,0,0,0.45)" stroke-width="1"/>
<path d="M381.6 482.8V477.5H418" fill="none" stroke="#555" stroke-width="1"/>
<rect x="422.5" y="472.5" width="28" height="10" fill="none" stroke="#9a9a9a" stroke-width="1"/>
<text x="424.1" y="480.1" font-size="8.6" font-weight="normal" fill="#222" text-anchor="start" textLength="24" lengthAdjust="spacingAndGlyphs" stroke="#222" stroke-width="0.25">9 - 11"</text>
<line x1="454.5" y1="498" x2="454.5" y2="506.8" stroke="#333" stroke-width="1.4"/>
<rect x="459.5" y="492.5" width="16" height="18" fill="none" stroke="#333" stroke-width="0.8"/>
<text x="467.85" y="505.67" font-size="13" font-weight="bold" fill="#111" text-anchor="middle" stroke="#111" stroke-width="0.6">4</text>
<ellipse cx="483.4" cy="477.5" rx="1.25" ry="1.6" fill="#111"/>
<path d="M483.8 478.3 q0.1 1.8 -1.1 3" fill="none" stroke="#222" stroke-width="0.9"/>
<circle cx="498.5" cy="464.1" r="3.4" fill="none" stroke="#555" stroke-width="1"/>
<text x="498.5" y="466.3" font-size="6.2" font-weight="bold" fill="#222" text-anchor="middle" stroke="#222" stroke-width="0.3">3</text>
<text x="492.6" y="478.7" font-size="10.8" font-weight="normal" fill="#1a1a1a" text-anchor="start" textLength="21.1" lengthAdjust="spacingAndGlyphs" stroke="#1a1a1a" stroke-width="0.2">text:</text>
<text x="518.6" y="478.6" font-size="7.9" font-weight="normal" fill="#333" text-anchor="start" textLength="129.3" lengthAdjust="spacingAndGlyphs" stroke="#333" stroke-width="0.1">with a lot of space and "colored" silence</text>
<rect x="485.5" y="483.5" width="211" height="38" fill="none" stroke="#505050" stroke-width="1"/>
<rect x="527.9" y="486.3" width="17.9" height="34.2" fill="none" stroke="#333" stroke-width="1"/>
<line x1="546" y1="485" x2="546" y2="521" stroke="#888" stroke-width="1.6"/>
<line x1="545.8" y1="486.5" x2="550.8" y2="486.5" stroke="#888" stroke-width="0.8"/>
<line x1="545.8" y1="517.5" x2="550.8" y2="517.5" stroke="#888" stroke-width="0.8"/>
<g transform="translate(527.4 486)" fill="none" stroke="#222" stroke-width="0.9" stroke-linejoin="round">
<path d="M4.5 6 q-1-2.5 1.5-3 q1-2 3-0.6 q2-1.2 3 0.6 q2.2 0.6 1.2 2.6 q1.6 1.6 -0.4 3.2 q-0.6 2 -2.6 1.4 q-1.6 1.4 -3-0.2 q-2.2 0.4 -2.4-1.6 q-1.6-1.2 -0.3-2.4z" stroke-width="1"/>
<path d="M6 4.5 l2 2 l2-2.5 M7 8 l2.5-1.5 l2 1.5 M8.5 10.5 v5.5 l1.5 1" stroke-width="1.1"/>
<path d="M2.5 24 l3-3 M4.5 20.5 l1-0.8" stroke-width="0.9"/>
<path d="M5 28 l5-5.5 l3.2 2.8 l-5 5.5z M10 22.5 l3-3.2 l2.8 2.4 l-2.6 3.6" stroke-width="1"/>
<path d="M8 26 l2.5 2 M9.5 24.5 l2.5 2 M11.5 21.5 l2 1.8" stroke="#555" stroke-width="1.1"/>
</g>
<path d="M545.8 502.5 q5 0.5 4.6 5 q-0.4 4 -4.6 4.5 M546.8 513 l2 1.6 l-2 1.6" fill="none" stroke="#333" stroke-width="0.9"/>
<rect x="676.5" y="486.3" width="18.3" height="34.2" fill="none" stroke="#333" stroke-width="1"/>
<line x1="694" y1="485" x2="694" y2="521" stroke="#888" stroke-width="1.6"/>
<line x1="694.8" y1="486.5" x2="699.8" y2="486.5" stroke="#888" stroke-width="0.8"/>
<line x1="694.8" y1="517.5" x2="699.8" y2="517.5" stroke="#888" stroke-width="0.8"/>
<g transform="translate(676 486)" fill="none" stroke="#222" stroke-width="0.9" stroke-linejoin="round">
<path d="M4.5 6 q-1-2.5 1.5-3 q1-2 3-0.6 q2-1.2 3 0.6 q2.2 0.6 1.2 2.6 q1.6 1.6 -0.4 3.2 q-0.6 2 -2.6 1.4 q-1.6 1.4 -3-0.2 q-2.2 0.4 -2.4-1.6 q-1.6-1.2 -0.3-2.4z" stroke-width="1"/>
<path d="M6 4.5 l2 2 l2-2.5 M7 8 l2.5-1.5 l2 1.5 M8.5 10.5 v5.5 l1.5 1" stroke-width="1.1"/>
<path d="M2.5 24 l3-3 M4.5 20.5 l1-0.8" stroke-width="0.9"/>
<path d="M5 28 l5-5.5 l3.2 2.8 l-5 5.5z M10 22.5 l3-3.2 l2.8 2.4 l-2.6 3.6" stroke-width="1"/>
<path d="M8 26 l2.5 2 M9.5 24.5 l2.5 2 M11.5 21.5 l2 1.8" stroke="#555" stroke-width="1.1"/>
</g>
<path d="M694.8 502.5 q5 0.5 4.6 5 q-0.4 4 -4.6 4.5 M695.8 513 l2 1.6 l-2 1.6" fill="none" stroke="#333" stroke-width="0.9"/>
<path d="M717 487.1V480.9H730.1V487.1" fill="none" stroke="#111" stroke-width="1.1"/>
<rect x="716.5" y="480" width="14.1" height="1.9" fill="#111"/>
<circle cx="723" cy="485.6" r="0.9" fill="#111"/>
<line x1="744.5" y1="497.1" x2="744.5" y2="506.5" stroke="#222" stroke-width="1"/>
<rect x="746" y="497.1" width="2.4" height="9.4" fill="#111"/>
<rect x="25.5" y="555.5" width="217" height="25" fill="none" stroke="#8a8a8a" stroke-width="1"/>
<text x="27.8" y="561.6" font-size="7.4" font-weight="normal" fill="#222" text-anchor="start" textLength="67" lengthAdjust="spacingAndGlyphs" stroke="#222" stroke-width="0.15">for cueing purposes:</text>
<text x="27.8" y="569.9" font-size="7.4" font-weight="normal" fill="#222" text-anchor="start" textLength="166.6" lengthAdjust="spacingAndGlyphs" stroke="#222" stroke-width="0.15">Boxed roman numerals indicate system numbers.</text>
<text x="27.8" y="578.1" font-size="7.4" font-weight="normal" fill="#222" text-anchor="start" textLength="212" lengthAdjust="spacingAndGlyphs" stroke="#222" stroke-width="0.15">Circled arabic numerals indicate measure numbers, per system.</text>
<text x="265.9" y="567.7" font-size="10.2" font-weight="normal" fill="#222" text-anchor="start" textLength="256.8" lengthAdjust="spacingAndGlyphs" stroke="#222" stroke-width="0.1">Copyright © 2018 Pendula Music. All rights reserved.</text>
</svg></body></html>
